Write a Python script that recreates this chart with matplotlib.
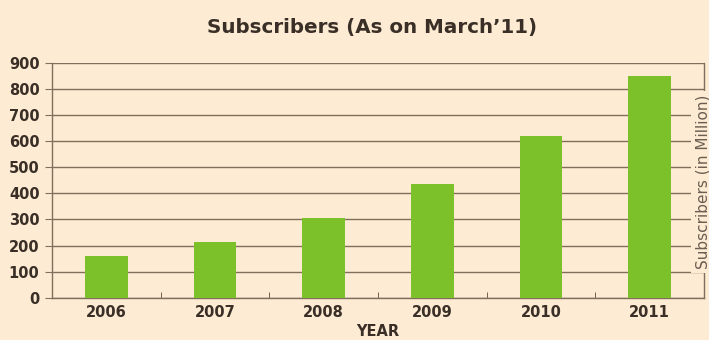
import matplotlib
matplotlib.use("Agg")
import matplotlib.pyplot as plt
import numpy as np

years = ["2006", "2007", "2008", "2009", "2010", "2011"]
subscribers = [159, 213, 306, 435, 620, 852]
yticks = [0, 100, 200, 300, 400, 500, 600, 700, 800, 900]

bg = "#FDEBD3"
green = "#7CC02A"
grid_c = "#806F5C"
text_c = "#3A2F27"

plt.rcParams['font.family'] = ['DejaVu Sans']

fig = plt.figure(figsize=(7.09, 3.40), dpi=100, facecolor=bg)
ax = fig.add_axes([52/709, 42.3/340, (704-52)/709, (297.7-63)/340])
ax.set_facecolor(bg)

x = np.arange(len(years))
ax.bar(x, subscribers, width=0.39, color=green, zorder=3)

ax.set_xlim(-0.5, len(years) - 0.5)
ax.set_ylim(0, 900)
ax.set_yticks(yticks)
ax.set_yticklabels([str(v) for v in yticks], fontsize=10.5, fontweight='bold', color=text_c)
ax.yaxis.grid(True, color=grid_c, linewidth=1.0, zorder=1)
ax.set_xticks(x)
ax.set_xticklabels(years, fontsize=10.5, fontweight='bold', color=text_c)
ax.set_xticks(x + 0.5, minor=True)
ax.tick_params(axis='x', which='major', length=0, pad=5)
ax.tick_params(axis='x', which='minor', length=4, direction='in', color="#5A4C3E")
ax.tick_params(axis='y', length=5, color=grid_c, pad=4)

for s in ['left', 'bottom', 'right']:
    ax.spines[s].set_color(grid_c)
    ax.spines[s].set_linewidth(1.0)
ax.spines['top'].set_visible(False)

ax.set_xlabel("YEAR", fontsize=10.5, fontweight='bold', color=text_c, labelpad=3)

fig.text(703/709, 1 - 182/340, "Subscribers (in Million)", rotation=90, ha='center', va='center',
         fontsize=11, color="#6A5E52",
         bbox=dict(facecolor=bg, edgecolor='none', pad=3), zorder=10)

fig.text(372/709, 1 - 28/340, "Subscribers (As on March\u201911)", ha='center', va='center',
         fontsize=14.3, fontweight='bold', color=text_c)

fig.savefig("out.png", dpi=100, facecolor=bg)
